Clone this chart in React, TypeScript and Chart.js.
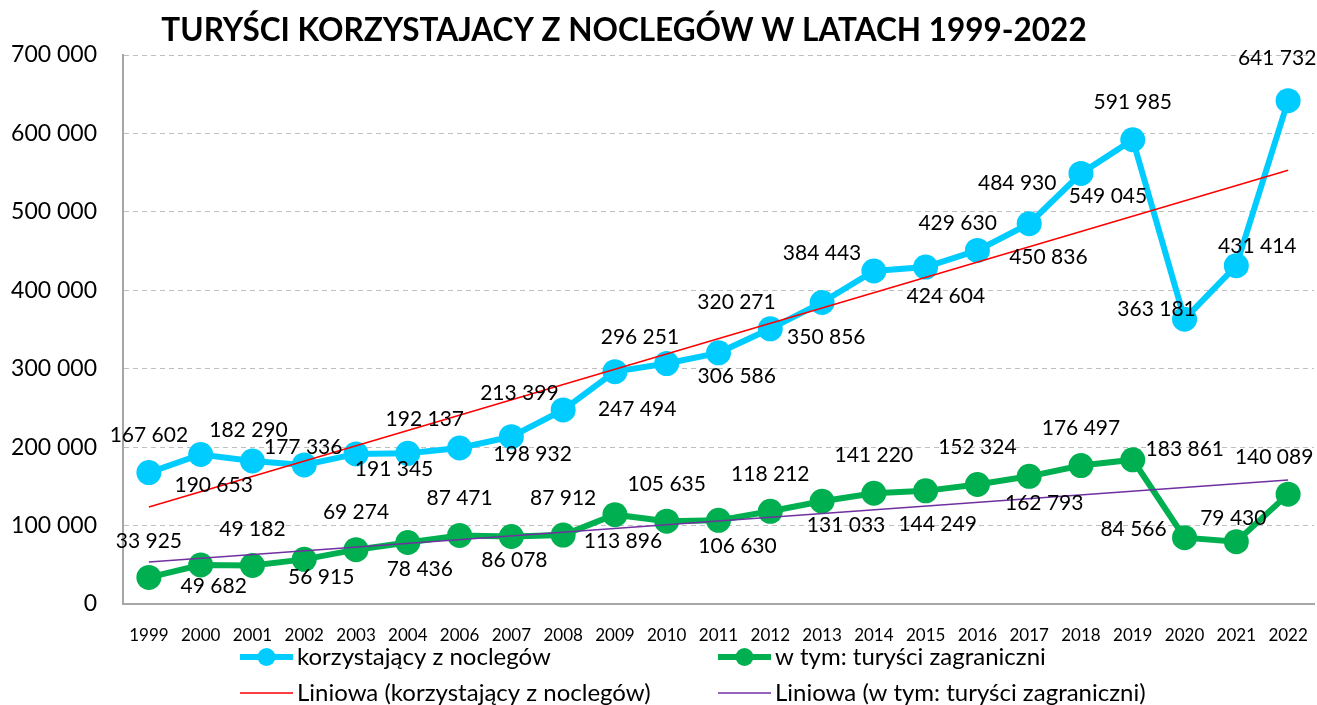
import React, { useEffect, useRef } from "react";
import { Chart, registerables } from "chart.js";

Chart.register(...registerables);

const categories = ["1999","2000","2001","2002","2003","2004","2006","2007","2008","2009","2010","2011","2012","2013","2014","2015","2016","2017","2018","2019","2020","2021","2022"];

const touristsAll = [167602,190653,182290,177336,191345,192137,198932,213399,247494,296251,306586,320271,350856,384443,424604,429630,450836,484930,549045,591985,363181,431414,641732];

const touristsForeign = [33925,49682,49182,56915,69274,78436,87471,86078,87912,113896,105635,106630,118212,131033,141220,144249,152324,162793,176497,183861,84566,79430,140089];

// Trend line end values (first and last category)
const trendAllEnds = [123700, 553000];
const trendForeignEnds = [53500, 158000];

const yTicks = [0,100000,200000,300000,400000,500000,600000,700000];

const TITLE = "TURYŚCI KORZYSTAJACY Z NOCLEGÓW W LATACH 1999-2022";
const seriesNames = ["korzystający z noclegów","w tym: turyści zagraniczni","Liniowa (korzystający z noclegów)","Liniowa (w tym: turyści zagraniczni)"];

// label placement relative to each point (style)
const blueLabelOffsets = [[0,-37],[13,31],[-4,-31],[-1,-18],[38,15],[17,-34],[73,6],[8,-43],[74,-1],[25,-34],[70,13],[18,-51],[56,8],[0,-49],[72,25],[32,-44],[71,7],[-12,-40],[27,23],[0,-37],[-28,-10],[21,-19],[-11,-42]];
const greenLabelOffsets = [[0,-36],[13,21],[0,-36],[17,18],[0,-37],[12,27],[0,-37],[3,24],[0,-37],[8,27],[0,-37],[19,26],[0,-37],[24,24],[0,-38],[12,33],[0,-37],[15,27],[0,-37],[52,-11],[-51,-8],[-3,-23],[-14,-37]];

const BLUE = "#00CCFF";
const GREEN = "#00B050";
const RED = "#FF0000";
const PURPLE = "#7030A0";
const FONT = "Lato, 'Open Sans', sans-serif";
const W = 1317;
const H = 705;

function fmt(v: number): string {
  return String(v).replace(/\B(?=(\d{3})+(?!\d))/g, " ");
}

function trendData(ends: number[]): (number | null)[] {
  return categories.map((_, i) => (i === 0 ? ends[0] : i === categories.length - 1 ? ends[1] : null));
}

const overlayPlugin = {
  id: "overlay",
  afterDatasetsDraw(chart: any) {
    const ctx = chart.ctx;
    ctx.save();
    ctx.font = `21px ${FONT}`;
    ctx.fillStyle = "#000";
    ctx.textAlign = "center";
    ctx.textBaseline = "middle";
    const sets: [number, number[][]][] = [[0, blueLabelOffsets], [1, greenLabelOffsets]];
    sets.forEach(([di, offs]) => {
      const meta = chart.getDatasetMeta(di);
      const data = chart.data.datasets[di].data;
      meta.data.forEach((pt: any, i: number) => {
        const o = offs[i] || [0, -30];
        ctx.fillText(fmt(data[i]), pt.x + o[0], pt.y + o[1]);
      });
    });
    ctx.restore();
  },
  afterDraw(chart: any) {
    const ctx = chart.ctx;
    ctx.save();
    ctx.font = `bold 31.5px ${FONT}`;
    ctx.fillStyle = "#000";
    ctx.textAlign = "center";
    ctx.textBaseline = "middle";
    ctx.fillText(TITLE, 624, 31);
    ctx.font = `24px ${FONT}`;
    ctx.textAlign = "left";
    const items = [
      { x: 240, y: 657, color: BLUE, w: 6, marker: true, text: seriesNames[0] },
      { x: 718, y: 657, color: GREEN, w: 6, marker: true, text: seriesNames[1] },
      { x: 240, y: 693, color: RED, w: 1.5, marker: false, text: seriesNames[2] },
      { x: 718, y: 693, color: PURPLE, w: 1.5, marker: false, text: seriesNames[3] },
    ];
    items.forEach((it) => {
      ctx.strokeStyle = it.color;
      ctx.lineWidth = it.w;
      ctx.beginPath();
      ctx.moveTo(it.x, it.y);
      ctx.lineTo(it.x + 53, it.y);
      ctx.stroke();
      if (it.marker) {
        ctx.fillStyle = it.color;
        ctx.beginPath();
        ctx.arc(it.x + 26.5, it.y, 9, 0, Math.PI * 2);
        ctx.fill();
      }
      ctx.fillStyle = "#000";
      ctx.fillText(it.text, it.x + 57, it.y);
    });
    ctx.restore();
  },
};

export default function App() {
  const ref = useRef<HTMLCanvasElement | null>(null);
  useEffect(() => {
    if (!ref.current) return;
    const chart = new Chart(ref.current, {
      type: "line",
      data: {
        labels: categories,
        datasets: [
          {
            label: seriesNames[0],
            data: touristsAll,
            borderColor: BLUE,
            backgroundColor: BLUE,
            borderWidth: 6,
            pointRadius: 12.5,
            pointBorderWidth: 0,
            pointBackgroundColor: BLUE,
            tension: 0,
            order: 2,
          },
          {
            label: seriesNames[1],
            data: touristsForeign,
            borderColor: GREEN,
            backgroundColor: GREEN,
            borderWidth: 6,
            pointRadius: 12.5,
            pointBorderWidth: 0,
            pointBackgroundColor: GREEN,
            tension: 0,
            order: 2,
          },
          {
            label: seriesNames[2],
            data: trendData(trendAllEnds),
            borderColor: RED,
            borderWidth: 1.5,
            pointRadius: 0,
            spanGaps: true,
            order: 1,
          },
          {
            label: seriesNames[3],
            data: trendData(trendForeignEnds),
            borderColor: PURPLE,
            borderWidth: 1.5,
            pointRadius: 0,
            spanGaps: true,
            order: 1,
          },
        ],
      },
      options: {
        animation: false,
        responsive: false,
        maintainAspectRatio: false,
        devicePixelRatio: 1,
        layout: { autoPadding: false, padding: { top: 55, right: 3, left: 0, bottom: 0 } },
        plugins: {
          legend: { display: false },
          title: { display: false },
          tooltip: { enabled: false },
        },
        scales: {
          x: {
            offset: true,
            grid: { display: false, drawTicks: false },
            border: { display: true, color: "#A6A6A6", width: 2 },
            ticks: { color: "#000", font: { family: FONT, size: 17 }, padding: 21, maxRotation: 0, autoSkip: false },
            afterFit: (s: any) => { s.height = 101; s.paddingLeft = 0; s.paddingRight = 0; },
          },
          y: {
            min: 0,
            max: 700000,
            afterBuildTicks: (s: any) => { s.ticks = yTicks.map((v) => ({ value: v })); },
            grid: { color: "#BFBFBF", lineWidth: 1, drawTicks: false },
            border: { display: true, color: "#A6A6A6", width: 2, dash: [5, 4] },
            ticks: { color: "#000", font: { family: FONT, size: 23 }, padding: 26, callback: (v: any) => fmt(Number(v)) },
            afterFit: (s: any) => { s.width = 123; s.paddingTop = 0; s.paddingBottom = 0; },
          },
        },
      },
      plugins: [overlayPlugin],
    });
    return () => chart.destroy();
  }, []);
  return (
    <div style={{ position: "absolute", left: 0, top: 0, width: W, height: H, background: "#fff", overflow: "hidden" }}>
      <canvas ref={ref} width={W} height={H} style={{ display: "block", width: W, height: H }} />
    </div>
  );
}
